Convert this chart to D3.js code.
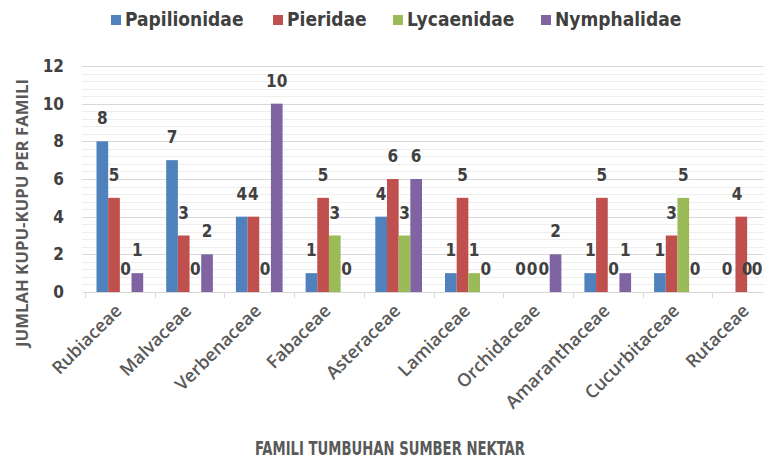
<!DOCTYPE html>
<html>
<head>
<meta charset="utf-8">
<script src="https://cdn.jsdelivr.net/npm/d3@7"></script>
<style>
  body { margin: 0; background: #fff; }
  svg { display: block; }
</style>
</head>
<body>
<svg></svg>
<script>
const width = 764;
const height = 458;

// data
const families = ["Rubiaceae", "Malvaceae", "Verbenaceae", "Fabaceae", "Asteraceae",
  "Lamiaceae", "Orchidaceae", "Amaranthaceae", "Cucurbitaceae", "Rutaceae"];
const seriesNames = ["Papilionidae", "Pieridae", "Lycaenidae", "Nymphalidae"];
const papilionidae = [8, 7, 4, 1, 4, 1, 0, 1, 1, 0];
const pieridae     = [5, 3, 4, 5, 6, 5, 0, 5, 3, 4];
const lycaenidae   = [0, 0, 0, 3, 3, 1, 0, 0, 5, 0];
const nymphalidae  = [1, 2, 10, 0, 6, 0, 2, 1, 0, 0];
const yTicks = [0, 2, 4, 6, 8, 10, 12];
const colors = ["#4F81BD", "#C0504D", "#9BBB59", "#8064A2"];

const allSeries = [papilionidae, pieridae, lycaenidae, nymphalidae];
const rows = families.map((f, i) => ({
  family: f,
  values: seriesNames.map((s, j) => ({ key: s, idx: j, value: allSeries[j][i] }))
}));

const narrow = "'Liberation Sans Narrow', 'Arial Narrow', 'DejaVu Sans Condensed', sans-serif";
const textGray = "#404040";

const svg = d3.select("svg")
  .attr("width", width)
  .attr("height", height);

// scales
const y = d3.scaleLinear().domain([0, 12]).range([292, 66]);
const x0 = d3.scaleBand().domain(families).range([85, 782]).padding(0);
const bw = x0.bandwidth();
const x1 = d3.scaleBand().domain(seriesNames).range([bw * 0.165, bw * 0.835]).padding(0);
const color = d3.scaleOrdinal().domain(seriesNames).range(colors);

// minor gridlines
svg.append("g")
  .selectAll("line")
  .data(d3.range(0, 12.01, 0.4).filter(v => Math.abs(v / 2 - Math.round(v / 2)) > 0.01))
  .join("line")
  .attr("x1", 82).attr("x2", width)
  .attr("y1", d => Math.round(y(d)) + 0.5).attr("y2", d => Math.round(y(d)) + 0.5)
  .attr("stroke", "#eeeeee");

// major gridlines
svg.append("g")
  .selectAll("line")
  .data(yTicks.slice(1))
  .join("line")
  .attr("x1", 82).attr("x2", width)
  .attr("y1", d => Math.round(y(d)) + 0.5).attr("y2", d => Math.round(y(d)) + 0.5)
  .attr("stroke", "#d9d9d9");

// y tick labels
svg.append("g")
  .selectAll("text")
  .data(yTicks)
  .join("text")
  .attr("x", 64)
  .attr("y", d => y(d) + 6)
  .attr("text-anchor", "end")
  .style("font-family", narrow)
  .style("font-weight", "bold")
  .style("font-size", "17px")
  .style("fill", textGray)
  .text(d => d);

// x axis
const xAxis = d3.axisBottom(x0).tickSize(0).tickFormat("");
const gx = svg.append("g")
  .attr("transform", `translate(0,${y(0)})`)
  .call(xAxis);
gx.select(".domain").attr("stroke", "#d9d9d9").attr("d", `M82.5,0.5H${width}`);
gx.selectAll(".sep")
  .data(families)
  .join("line")
  .attr("class", "sep")
  .attr("x1", d => Math.round(x0(d)) + 0.5).attr("x2", d => Math.round(x0(d)) + 0.5)
  .attr("y1", 0).attr("y2", 6)
  .attr("stroke", "#d9d9d9");

// bars
const groups = svg.append("g")
  .selectAll("g")
  .data(rows)
  .join("g")
  .attr("transform", d => `translate(${x0(d.family)},0)`);

groups.selectAll("rect")
  .data(d => d.values)
  .join("rect")
  .attr("x", d => x1(d.key))
  .attr("width", x1.bandwidth())
  .attr("y", d => y(d.value))
  .attr("height", d => y(0) - y(d.value))
  .attr("fill", d => color(d.key));

// value labels (squeezed inside the right edge, as the cropped original)
groups.each(function(row) {
  const gx0 = x0(row.family);
  d3.select(this).selectAll("text")
    .data(row.values)
    .join("text")
    .attr("x", d => Math.min(x1(d.key) + x1.bandwidth() / 2,
      width - 7 - (seriesNames.length - 1 - d.idx) * 10 - gx0))
    .attr("y", d => y(d.value) - 17)
    .attr("text-anchor", "middle")
    .style("font-family", narrow)
    .style("font-weight", "bold")
    .style("font-size", "17px")
    .style("fill", textGray)
    .text(d => d.value);
});

// category labels
svg.append("g")
  .selectAll("text")
  .data(families)
  .join("text")
  .attr("transform", d => `translate(${x0(d) + bw / 2 + 3},${y(0) + 20}) rotate(-45)`)
  .attr("text-anchor", "end")
  .style("font-family", "'Open Sans', sans-serif")
  .style("font-weight", "600")
  .style("font-size", "18px")
  .style("fill", "#595959")
  .text(d => d);

// axis titles
svg.append("text")
  .attr("transform", "translate(28,213) rotate(-90)")
  .attr("text-anchor", "middle")
  .attr("textLength", 268)
  .attr("lengthAdjust", "spacingAndGlyphs")
  .style("font-family", "'Open Sans', sans-serif")
  .style("font-weight", "bold")
  .style("font-size", "16px")
  .style("fill", "#595959")
  .text("JUMLAH KUPU-KUPU PER FAMILI");

svg.append("text")
  .attr("x", 390)
  .attr("y", 455)
  .attr("text-anchor", "middle")
  .attr("textLength", 270)
  .attr("lengthAdjust", "spacingAndGlyphs")
  .style("font-family", narrow)
  .style("font-weight", "bold")
  .style("font-size", "19px")
  .style("fill", "#595959")
  .text("FAMILI TUMBUHAN SUMBER NEKTAR");

// legend
const legendX = [111, 273, 393, 541];
const legend = svg.append("g")
  .selectAll("g")
  .data(seriesNames)
  .join("g")
  .attr("transform", (d, i) => `translate(${legendX[i]},15)`);

legend.append("rect")
  .attr("width", 10).attr("height", 10)
  .attr("fill", d => color(d));

legend.append("text")
  .attr("x", 14)
  .attr("y", 11)
  .style("font-family", narrow)
  .style("font-weight", "bold")
  .style("font-size", "19px")
  .style("fill", textGray)
  .text(d => d);
</script>
</body>
</html>
